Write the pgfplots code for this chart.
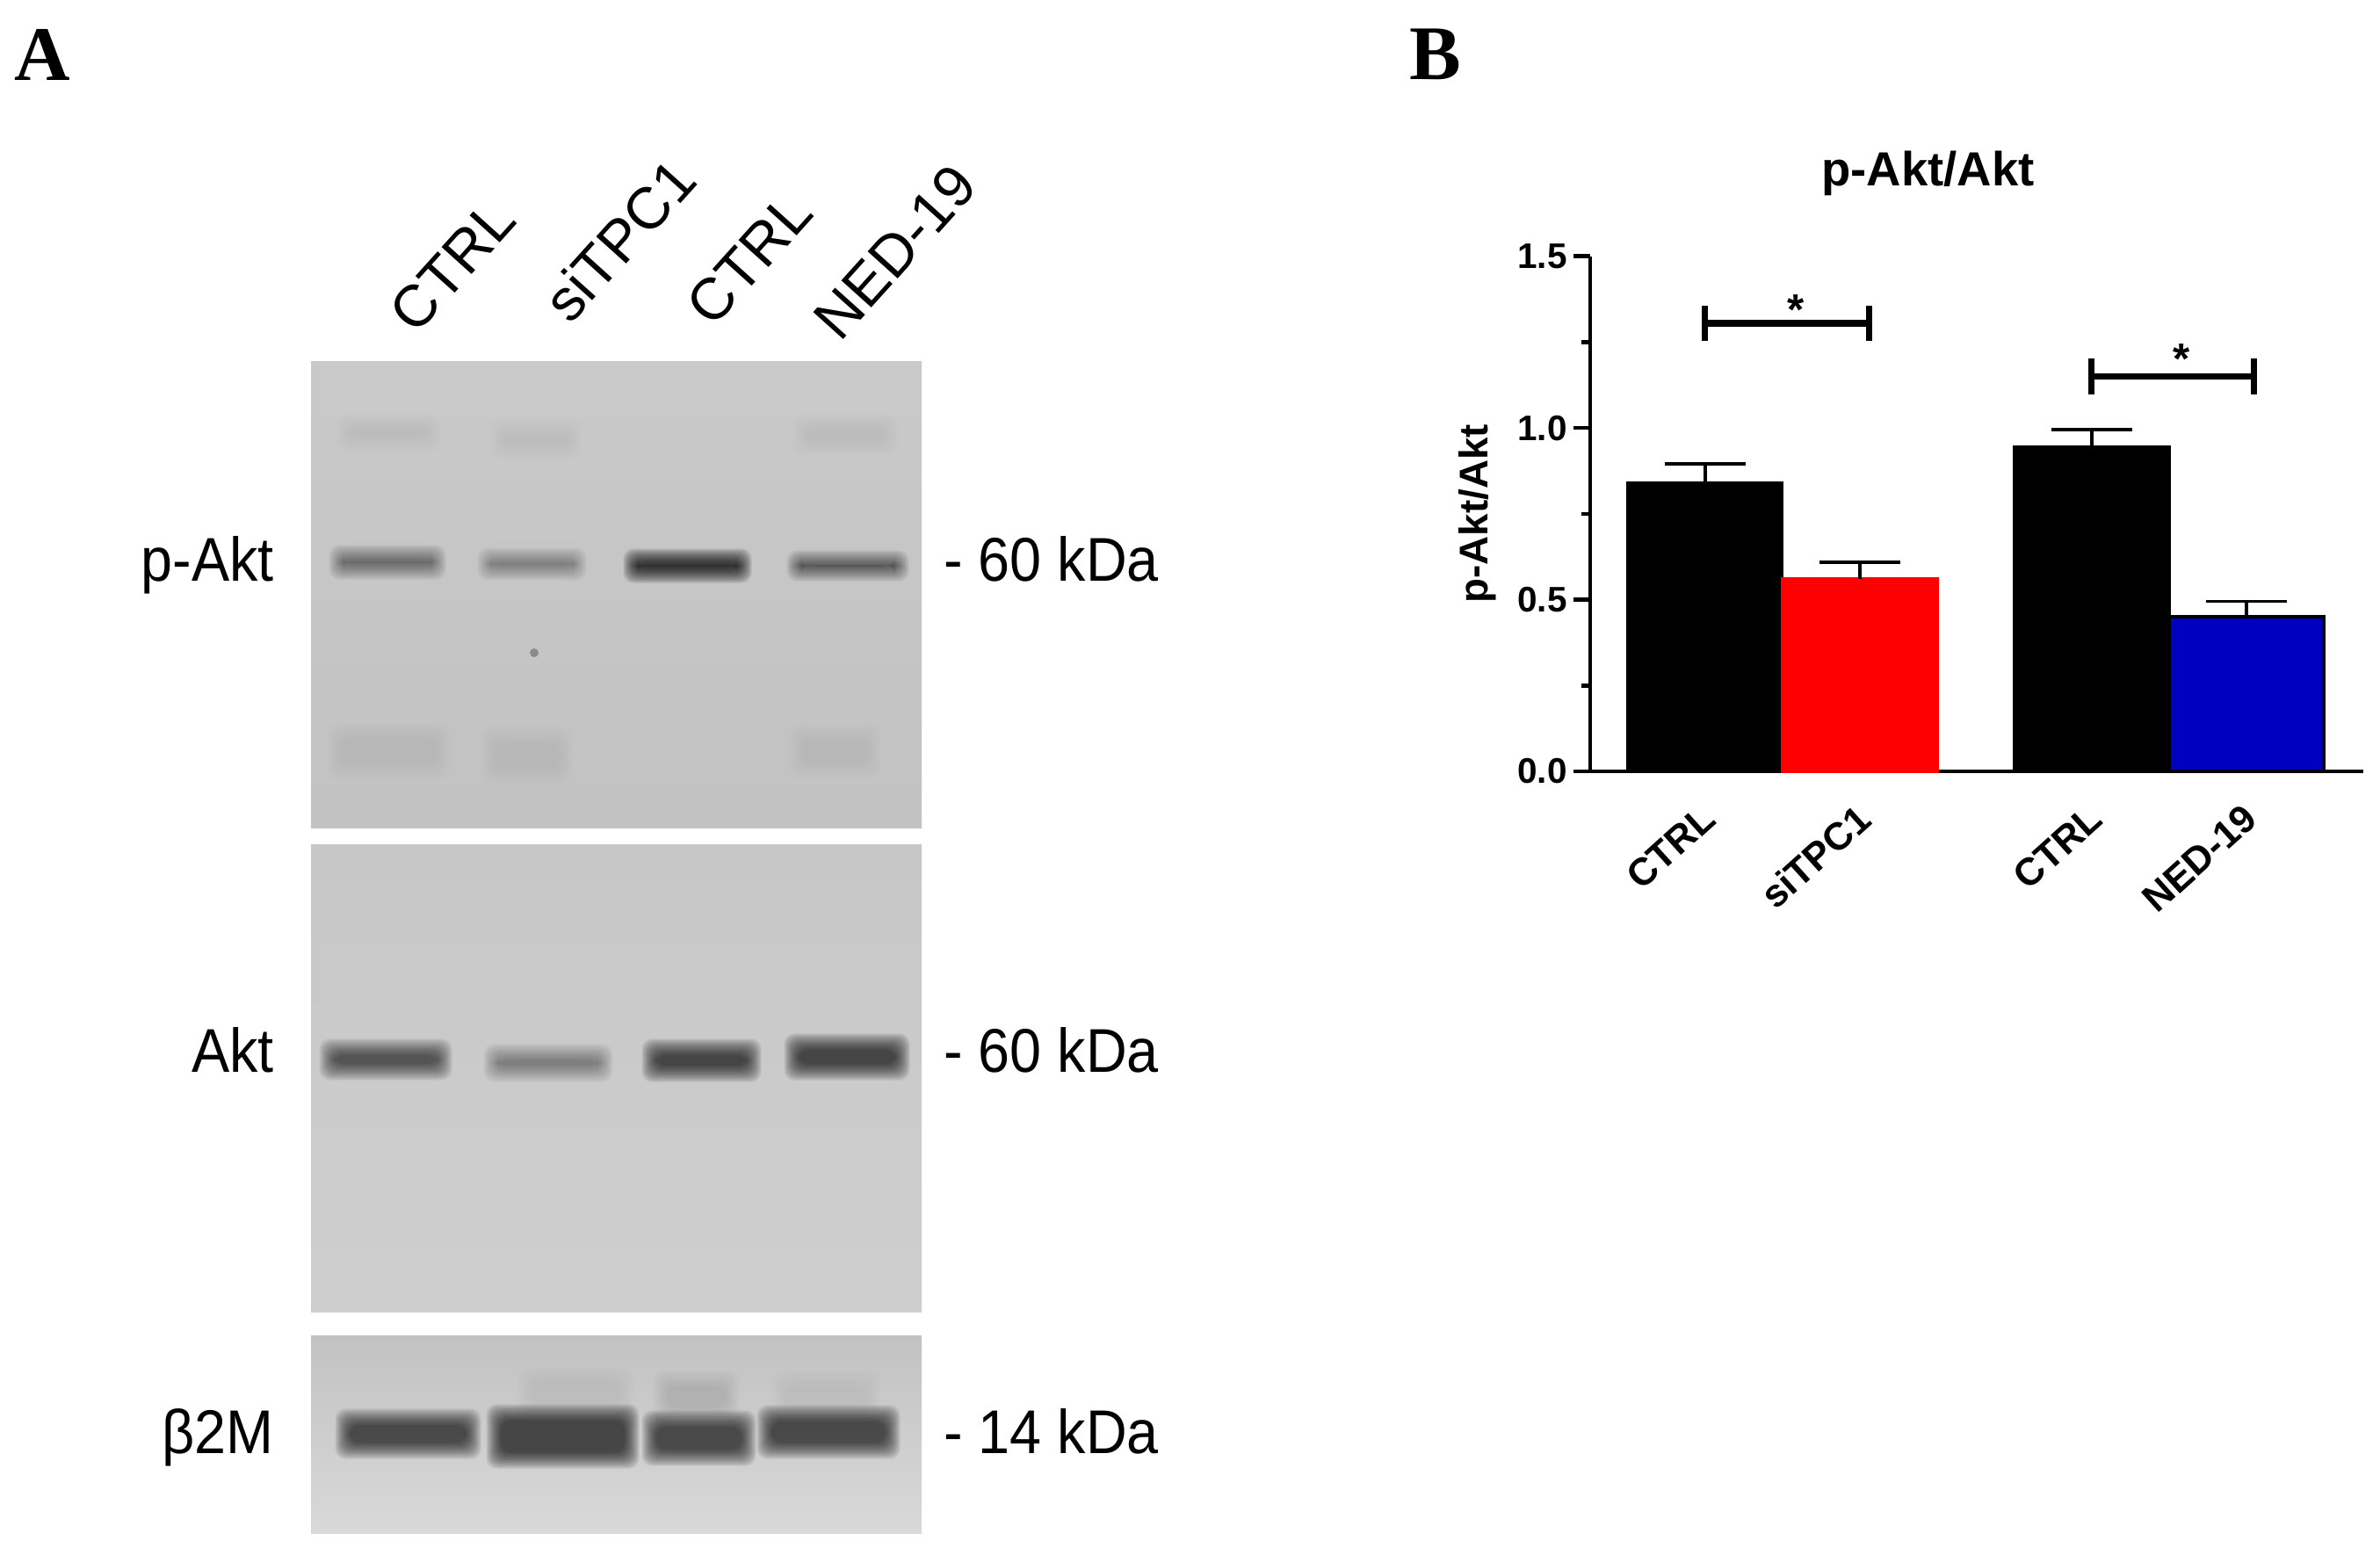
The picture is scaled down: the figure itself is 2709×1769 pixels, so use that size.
\documentclass[border=0pt]{standalone}
\usepackage{fontspec}
\setmainfont{Liberation Sans}
\newfontfamily\lettersfont{Liberation Serif}
\usepackage{pgfplots}
\pgfplotsset{compat=1.18}
\definecolor{barblue}{RGB}{0,0,192}
\definecolor{barred}{RGB}{255,0,0}

% soft band on a blot: x0, x1, y centre, half height, opacity per layer
\newcommand{\band}[5]{%
  \foreach \k in {0,...,11}{%
    \fill[black,opacity={#5*0.67},rounded corners=1.2mm]
      ({#1-\k*1.5+14},{#3-#4-\k*1.7+4}) rectangle ({#2+\k*1.5-14},{#3+#4+\k*1.7-4});
  }%
}
\newcommand{\lane}[3]{\node[rotate=48,font=\fontsize{19}{19}\selectfont] at (#1,#2) {#3};}
\newcommand{\leftlab}[2]{\node[anchor=base east,xscale=.92,font=\fontsize{20}{20}\selectfont] at (323,#1) {#2};}
\newcommand{\kda}[2]{\node[anchor=base west,xscale=.92,font=\fontsize{20}{20}\selectfont] at (1063,#1) {- #2 kDa};}

\begin{document}
\begin{tikzpicture}[x=0.01cm,y=-0.01cm]
\path (0,0) rectangle (2709,1769);
\coordinate (barorigin) at (1810,878);

% panel letters
\node[font=\lettersfont\bfseries\fontsize{25}{25}\selectfont] at (48,62) {A};
\node[font=\lettersfont\bfseries\fontsize{25}{25}\selectfont] at (1634,62) {B};

% blots
\shade[top color=black!21,bottom color=black!24] (354,411) rectangle (1049,942);
\shade[top color=black!22,bottom color=black!19] (354,961) rectangle (1049,1493);
\shade[top color=black!24,bottom color=black!15] (354,1520) rectangle (1049,1745);

% faint smears in the p-Akt panel
\band{385}{500}{493}{8}{.006}
\band{560}{660}{500}{8}{.004}
\band{905}{1020}{495}{10}{.004}
\band{375}{510}{855}{18}{.007}
\band{550}{650}{860}{18}{.004}
\band{900}{1000}{855}{16}{.004}
\fill[black!55,opacity=.7] (608,743) circle (5);

% p-Akt bands
\band{377}{505}{640}{5}{.07}
\band{546}{665}{642}{4}{.055}
\band{712}{853}{644}{5}{.16}
\band{898}{1032}{644}{3}{.095}
% Akt bands
\band{366}{512}{1206}{9}{.1}
\band{553}{695}{1210}{7}{.055}
\band{733}{864}{1207}{10}{.125}
\band{895}{1033}{1203}{12}{.125}
% b2M bands
\band{590}{720}{1585}{16}{.008}
\band{745}{840}{1590}{16}{.01}
\band{880}{1000}{1590}{16}{.008}
\band{384}{545}{1632}{14}{.115}
\band{556}{725}{1635}{22}{.125}
\band{733}{858}{1637}{17}{.115}
\band{864}{1022}{1630}{16}{.115}

% lane and size labels
\lane{515}{302}{CTRL}
\lane{705}{273}{siTPC1}
\lane{853}{294}{CTRL}
\lane{1019}{287}{NED-19}
\leftlab{661}{p-Akt}
\leftlab{1220}{Akt}
\leftlab{1654}{β2M}
\kda{661}{60}
\kda{1220}{60}
\kda{1654}{14}

\begin{axis}[
    at={(barorigin)},
    anchor=south west,
    scale only axis,
    width=8.79cm,
    height=5.86cm,
    xmin=0.2585, xmax=5.2528,
    ymin=0, ymax=1.5,
    axis lines=left,
    axis line style={-,line width=1.3pt},
    every tick/.style={black,line width=1.3pt},
    tick align=outside,
    major tick length=0.19cm,
    minor tick length=0.1cm,
    ytick={0,0.5,1,1.5},
    minor y tick num=1,
    xtick={1,2,3.5,4.5},
    xticklabels={CTRL,siTPC1,CTRL,NED-19},
    x tick style={draw=none},
    xtick pos=bottom,
    ytick pos=left,
    y tick label style={/pgf/number format/fixed,/pgf/number format/fixed zerofill,
        /pgf/number format/precision=1,/pgf/number format/assume math mode=true,
        xshift=0.05cm,font=\bfseries\fontsize{11.5}{11.5}\selectfont},
    x tick label style={rotate=42,anchor=north east,inner sep=1pt,yshift=-0.04cm,xshift=-0.11cm,
        font=\bfseries\fontsize{12.5}{12.5}\selectfont},
    ylabel={p-Akt/Akt},
    ylabel style={font=\bfseries\fontsize{13}{13}\selectfont},
    title={p-Akt/Akt},
    title style={font=\bfseries\fontsize{15.5}{15.5}\selectfont,at={(axis description cs:0.437,1)},yshift=0.35cm},
    clip=false,
    onebar/.style={ybar,bar width=1.76cm,bar shift=0pt,line width=1pt,
        error bars/y dir=plus,error bars/y explicit,
        error bars/error bar style={line width=1.1pt,black},
        error bars/error mark options={rotate=90,mark size=0.46cm,line width=1.1pt,black}},
]
\addplot[onebar,fill=black,draw=black] coordinates {(1,0.84) +- (0,0.055)};
\addplot[onebar,fill=barred,draw=barred] coordinates {(2,0.56) +- (0,0.05)};
\addplot[onebar,fill=black,draw=black] coordinates {(3.5,0.945) +- (0,0.05)};
\addplot[onebar,fill=barblue,draw=black] coordinates {(4.5,0.45) +- (0,0.045)};

% significance brackets
\addplot[sharp plot,black,line width=2.2pt,mark=|,mark size=0.2cm,
    mark options={line width=2pt}] coordinates {(1,1.305) (2.06,1.305)};
\addplot[sharp plot,black,line width=2.2pt,mark=|,mark size=0.2cm,
    mark options={line width=2pt}] coordinates {(3.5,1.15) (4.55,1.15)};
\node[font=\bfseries\fontsize{14}{14}\selectfont] at (axis cs:1.59,1.345) {*};
\node[font=\bfseries\fontsize{14}{14}\selectfont] at (axis cs:4.08,1.2) {*};
\end{axis}
\end{tikzpicture}
\end{document}
